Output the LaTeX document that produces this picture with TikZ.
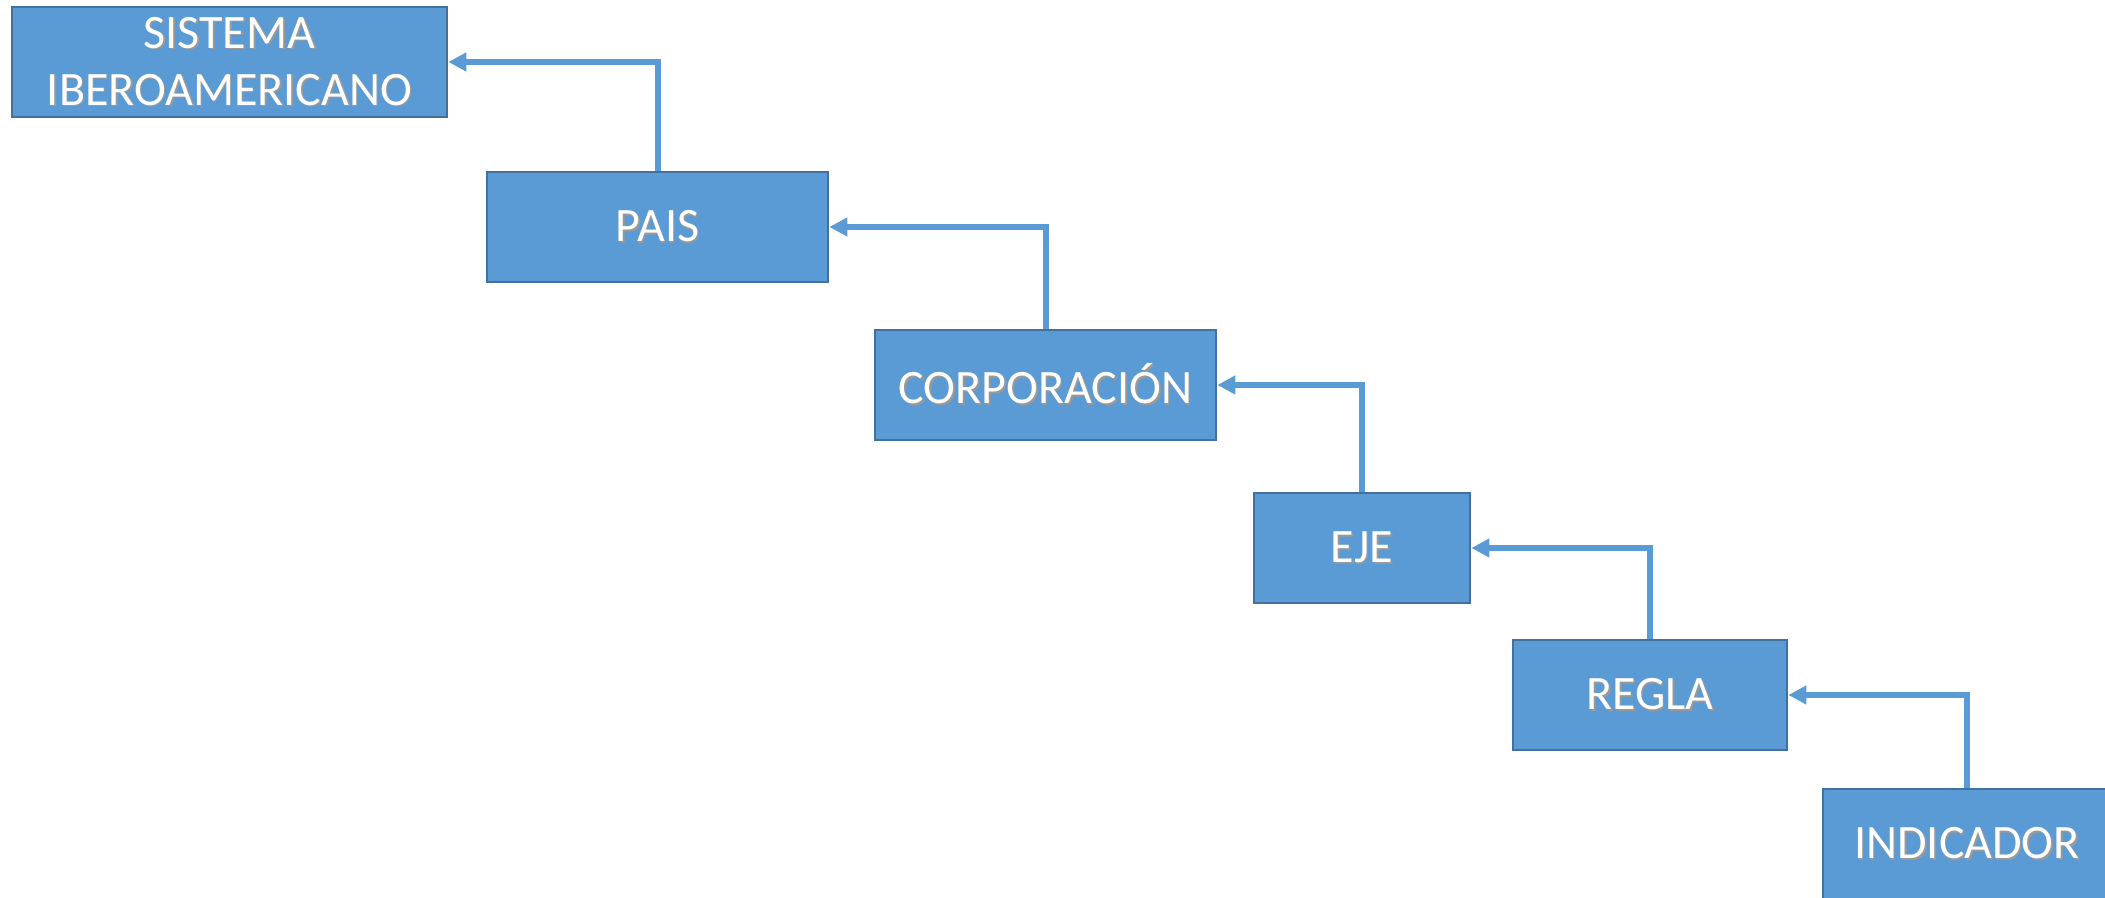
\documentclass[tikz,border=0pt]{standalone}
\usepackage{fontspec}
\setmainfont{Carlito}
\usetikzlibrary{arrows.meta}
\definecolor{boxfill}{HTML}{5B9BD5}
\definecolor{boxline}{HTML}{41719C}
\definecolor{arrowcol}{HTML}{5B9BD5}
\newcommand{\stxt}[1]{\makebox[0pt][l]{\hspace{0.8pt}\raisebox{-0.9pt}{\textcolor{black!40}{#1}}}\textcolor{white}{#1}}
\tikzset{
  levelbox/.style={draw=boxline, fill=boxfill, line width=1.4pt, rectangle, inner sep=0pt,
    minimum height=55pt, align=center, font=\fontsize{24}{28.5}\selectfont},
  uparrow/.style={draw=arrowcol, line width=3pt, -{Triangle[length=9pt,width=9pt]}}
}
\begin{document}
\begin{tikzpicture}[x=0.5pt,y=-0.5pt]
\clip (0,0) rectangle (2105,898);
\fill[white] (0,0) rectangle (2105,898);
\node[levelbox, minimum width=217.5pt] (sis) at (229.5,62) {\stxt{SISTEMA}\\\stxt{IBEROAMERICANO}};
\node[levelbox, minimum width=170.5pt] (pais) at (657.5,227) {\stxt{PAIS}};
\node[levelbox, minimum width=170.5pt] (corp) at (1045.5,385) {\stxt{CORPORACIÓN}};
\node[levelbox, minimum width=108pt] (eje) at (1362,548) {\stxt{EJE}};
\node[levelbox, minimum width=137pt] (regla) at (1650,695) {\stxt{REGLA}};
\node[levelbox, minimum width=144pt] (ind) at (1967,844) {\stxt{INDICADOR}};
\draw[uparrow] (pais.north) |- (sis.east);
\draw[uparrow] (corp.north) |- (pais.east);
\draw[uparrow] (eje.north) |- (corp.east);
\draw[uparrow] (regla.north) |- (eje.east);
\draw[uparrow] (ind.north) |- (regla.east);
\end{tikzpicture}
\end{document}
